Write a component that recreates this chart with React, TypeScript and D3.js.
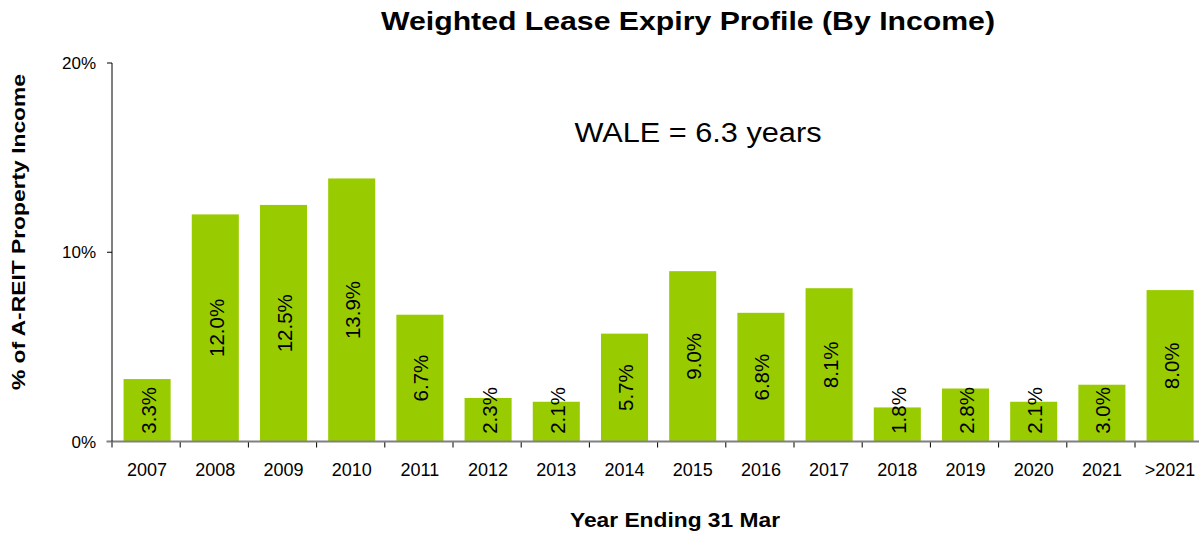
import React from "react";
import * as d3 from "d3";

const categories = ["2007","2008","2009","2010","2011","2012","2013","2014","2015","2016","2017","2018","2019","2020","2021",">2021"];
const values = [3.3, 12.0, 12.5, 13.9, 6.7, 2.3, 2.1, 5.7, 9.0, 6.8, 8.1, 1.8, 2.8, 2.1, 3.0, 8.0];
const yTicks = [0, 10, 20];

const W = 1199, H = 534;
const left = 112, right = 1203.2, top = 63, bottom = 441.5;

export default function App() {
  const x = d3.scaleBand<string>().domain(categories).range([left + 1, right + 1]).paddingInner(0.31).paddingOuter(0.155);
  const y = d3.scaleLinear().domain([0, 20]).range([bottom, top]);
  const step = x.step();
  const font = "Arial, 'Liberation Sans', Helvetica, sans-serif";
  return (
    <svg width={W} height={H} style={{ position: "absolute", left: 0, top: 0, background: "#fff" }} fontFamily={font}>
      <text x={688} y={30} textAnchor="middle" fontSize={25} fontWeight="bold" textLength={614} lengthAdjust="spacingAndGlyphs">Weighted Lease Expiry Profile (By Income)</text>
      {categories.map((c, i) => {
        const v = values[i];
        const bx = x(c)!;
        const cx = bx + x.bandwidth() / 2;
        const cy = Math.min((y(v) + y(0)) / 2, y(0) - 8 - 23);
        return (
          <g key={c}>
            <rect x={bx} y={y(v)} width={x.bandwidth()} height={y(0) - y(v)} fill="#99CC00" />
            <text transform={`translate(${cx + 1},${cy}) rotate(-90)`} textAnchor="middle" dominantBaseline="central" fontSize={20.5}>{v.toFixed(1) + "%"}</text>
            <text x={cx} y={476} textAnchor="middle" fontSize={18}>{c}</text>
          </g>
        );
      })}
      {d3.range(categories.length + 1).map(i => (
        <line key={"t" + i} x1={left + i * step} x2={left + i * step} y1={bottom} y2={bottom + 6} stroke="#000" strokeWidth={1} />
      ))}
      <line x1={106.5} x2={W} y1={bottom} y2={bottom} stroke="#808080" strokeWidth={2} />
      <line x1={left} x2={left} y1={top} y2={bottom} stroke="#000" strokeWidth={1} />
      {yTicks.map(t => (
        <g key={"y" + t}>
          {t > 0 && <line x1={107} x2={left} y1={y(t)} y2={y(t)} stroke="#000" strokeWidth={1} />}
          <text x={96} y={y(t) + 6} textAnchor="end" fontSize={17}>{t + "%"}</text>
        </g>
      ))}
      <text x={698} y={142} textAnchor="middle" fontSize={27} textLength={247} lengthAdjust="spacingAndGlyphs">WALE = 6.3 years</text>
      <text x={675} y={527} textAnchor="middle" fontSize={21} fontWeight="bold" textLength={210} lengthAdjust="spacingAndGlyphs">Year Ending 31 Mar</text>
      <text transform="translate(25,232) rotate(-90)" textAnchor="middle" fontSize={19} fontWeight="bold" textLength={316} lengthAdjust="spacingAndGlyphs">% of A-REIT Property Income</text>
    </svg>
  );
}
